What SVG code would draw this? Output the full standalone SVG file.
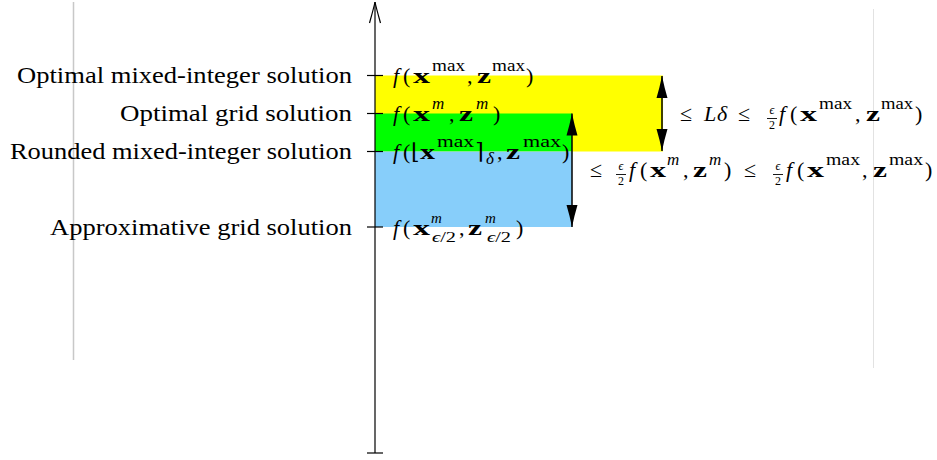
<svg xmlns="http://www.w3.org/2000/svg" width="937" height="460" viewBox="0 0 937 460">
<style>
.lbl{font-family:"Liberation Serif","DejaVu Serif",serif;font-size:22.5px;fill:#000;text-anchor:end}
.m{font-family:"Liberation Serif","DejaVu Serif",serif;font-size:22px;fill:#000}
.it{font-style:italic}
.b{font-weight:bold;font-size:22px}
.s{font-size:16px;font-weight:normal;font-style:normal}
.si{font-size:17px;font-style:italic;font-weight:normal}
.ss{font-size:15px;font-style:italic;font-weight:normal}
.sb{font-size:14px;font-weight:normal;font-style:normal}
.fr{font-family:"Liberation Serif","DejaVu Serif",serif;font-size:12px;text-anchor:middle;fill:#000}
.tick{stroke:#000;stroke-width:1.2}
.dim{stroke:#000;stroke-width:1.5;fill:none}
</style>
<defs>
<marker id="ah" viewBox="0 0 22 12" refX="22" refY="6" markerWidth="22" markerHeight="12" markerUnits="userSpaceOnUse" orient="auto-start-reverse">
<path d="M22,6 Q10,3.5 0,0.5 L0,11.5 Q10,8.5 22,6 Z" fill="#000"/>
</marker>
</defs>

<g id="guides">
<line x1="73.5" y1="2" x2="73.5" y2="360" stroke="#c8c8c8" stroke-width="1.5"/>
<line x1="873.5" y1="9" x2="873.5" y2="368" stroke="#e2e2e2" stroke-width="1"/>
</g>

<g id="regions">
<rect id="yellow" x="375" y="75.5" width="288" height="76" fill="#ffff00"/>
<rect id="green" x="375" y="113.5" width="197" height="38" fill="#00ff00"/>
<rect id="blue" x="375" y="151.5" width="197" height="75.5" fill="#87cefa"/>
</g>

<g id="axis">
<line x1="375" y1="453" x2="375" y2="2" stroke="#000" stroke-width="1.2"/>
<path d="M369.5,23 C372,14 374,7 375,2 C376,7 378,14 380.5,23" fill="none" stroke="#000" stroke-width="1.2"/>
<line class="tick" x1="367" y1="453" x2="383" y2="453"/>
<line class="tick" x1="367" y1="75.5" x2="383" y2="75.5"/>
<line class="tick" x1="367" y1="113.5" x2="383" y2="113.5"/>
<line class="tick" x1="367" y1="151.5" x2="383" y2="151.5"/>
<line class="tick" x1="367" y1="227" x2="383" y2="227"/>
</g>

<g id="label-optimal-mi">
<text class="lbl" x="352" y="83" textLength="335" lengthAdjust="spacingAndGlyphs">Optimal mixed-integer solution</text>
<text class="m" y="83"><tspan class="it" x="393">f</tspan><tspan x="403">(</tspan><tspan class="b" x="413" textLength="17" lengthAdjust="spacingAndGlyphs">x</tspan><tspan class="s" x="432" y="71" textLength="33" lengthAdjust="spacingAndGlyphs">max</tspan><tspan x="467" y="83">,</tspan><tspan class="b" x="477" textLength="14" lengthAdjust="spacingAndGlyphs">z</tspan><tspan class="s" x="492" y="71" textLength="33" lengthAdjust="spacingAndGlyphs">max</tspan><tspan x="526" y="83">)</tspan></text>
</g>

<g id="label-optimal-grid">
<text class="lbl" x="352" y="121" textLength="232" lengthAdjust="spacingAndGlyphs">Optimal grid solution</text>
<text class="m" y="121"><tspan class="it" x="393">f</tspan><tspan x="403">(</tspan><tspan class="b" x="413" textLength="17" lengthAdjust="spacingAndGlyphs">x</tspan><tspan class="si" x="432" y="109">m</tspan><tspan x="449" y="121">,</tspan><tspan class="b" x="459" textLength="14" lengthAdjust="spacingAndGlyphs">z</tspan><tspan class="si" x="476" y="109">m</tspan><tspan x="493" y="121">)</tspan></text>
</g>

<g id="label-rounded">
<text class="lbl" x="352" y="159" textLength="342" lengthAdjust="spacingAndGlyphs">Rounded mixed-integer solution</text>
<text class="m" y="159"><tspan class="it" x="393">f</tspan><tspan x="403">(</tspan><tspan x="411">⌊</tspan><tspan class="b" x="420" textLength="15" lengthAdjust="spacingAndGlyphs">x</tspan><tspan class="s" x="437" y="147" textLength="37" lengthAdjust="spacingAndGlyphs">max</tspan><tspan x="475" y="159">⌉</tspan><tspan class="si" x="486" y="164">δ</tspan><tspan x="497" y="159">,</tspan><tspan class="b" x="506" textLength="14" lengthAdjust="spacingAndGlyphs">z</tspan><tspan class="s" x="523" y="147" textLength="38" lengthAdjust="spacingAndGlyphs">max</tspan><tspan x="562" y="159">)</tspan></text>
</g>

<g id="label-approx">
<text class="lbl" x="352" y="235" textLength="302" lengthAdjust="spacingAndGlyphs">Approximative grid solution</text>
<text class="m" y="235"><tspan class="it" x="393">f</tspan><tspan x="403">(</tspan><tspan class="b" x="413" textLength="17" lengthAdjust="spacingAndGlyphs">x</tspan><tspan class="ss" x="431" y="223">m</tspan><tspan class="sb" x="432" y="242" textLength="24" lengthAdjust="spacingAndGlyphs"><tspan class="it">ϵ</tspan>/2</tspan><tspan x="459" y="235">,</tspan><tspan class="b" x="468" textLength="14" lengthAdjust="spacingAndGlyphs">z</tspan><tspan class="ss" x="485" y="223">m</tspan><tspan class="sb" x="487" y="242" textLength="24" lengthAdjust="spacingAndGlyphs"><tspan class="it">ϵ</tspan>/2</tspan><tspan x="516" y="235">)</tspan></text>
</g>

<g id="connectors">
<line class="dim" x1="662" y1="76" x2="662" y2="151" marker-start="url(#ah)" marker-end="url(#ah)"/>
<line class="dim" x1="572" y1="113.5" x2="572" y2="227" marker-start="url(#ah)" marker-end="url(#ah)"/>
</g>

<g id="bound-1">
<text class="m" y="121"><tspan x="680">≤</tspan><tspan class="it" x="704">L</tspan><tspan class="it" x="717">δ</tspan><tspan x="738">≤</tspan><tspan class="it" x="779">f</tspan><tspan x="790">(</tspan><tspan class="b" x="800" textLength="17" lengthAdjust="spacingAndGlyphs">x</tspan><tspan class="s" x="819" y="109" textLength="33" lengthAdjust="spacingAndGlyphs">max</tspan><tspan x="855" y="121">,</tspan><tspan class="b" x="866" textLength="14" lengthAdjust="spacingAndGlyphs">z</tspan><tspan class="s" x="881" y="109" textLength="32" lengthAdjust="spacingAndGlyphs">max</tspan><tspan x="915" y="121">)</tspan></text>
<text class="fr" x="772" y="114" font-style="italic">ϵ</text>
<line x1="767" y1="118.5" x2="777" y2="118.5" stroke="#000" stroke-width="0.9"/>
<text class="fr" x="772" y="129">2</text>
</g>

<g id="bound-2">
<text class="m" y="177"><tspan x="590">≤</tspan><tspan class="it" x="629">f</tspan><tspan x="640">(</tspan><tspan class="b" x="650" textLength="16" lengthAdjust="spacingAndGlyphs">x</tspan><tspan class="si" x="667" y="165">m</tspan><tspan x="683" y="177">,</tspan><tspan class="b" x="693" textLength="14" lengthAdjust="spacingAndGlyphs">z</tspan><tspan class="si" x="709" y="165">m</tspan><tspan x="724" y="177">)</tspan><tspan x="744">≤</tspan><tspan class="it" x="786">f</tspan><tspan x="797">(</tspan><tspan class="b" x="807" textLength="17" lengthAdjust="spacingAndGlyphs">x</tspan><tspan class="s" x="826" y="165" textLength="34" lengthAdjust="spacingAndGlyphs">max</tspan><tspan x="862" y="177">,</tspan><tspan class="b" x="873" textLength="14" lengthAdjust="spacingAndGlyphs">z</tspan><tspan class="s" x="889" y="165" textLength="34" lengthAdjust="spacingAndGlyphs">max</tspan><tspan x="925" y="177">)</tspan></text>
<text class="fr" x="621" y="170" font-style="italic">ϵ</text>
<line x1="616" y1="174.5" x2="626" y2="174.5" stroke="#000" stroke-width="0.9"/>
<text class="fr" x="621" y="185">2</text>
<text class="fr" x="778" y="170" font-style="italic">ϵ</text>
<line x1="773" y1="174.5" x2="783" y2="174.5" stroke="#000" stroke-width="0.9"/>
<text class="fr" x="778" y="185">2</text>
</g>
</svg>
